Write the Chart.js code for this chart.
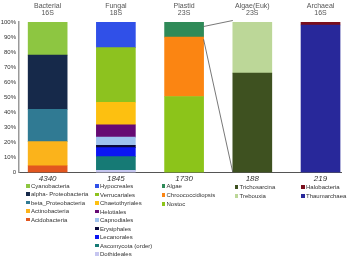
<!DOCTYPE html>
<html>
<head>
<meta charset="utf-8">
<script src="https://cdn.jsdelivr.net/npm/chart.js@4.4.0/dist/chart.umd.min.js"></script>
<style>
  html, body { margin: 0; padding: 0; background: #fff; }
  #wrap { position: relative; width: 349px; height: 259px; }
  #chart { position: absolute; left: 0; top: 0; }
  .leg { position: absolute; font-family: "Liberation Sans", Arial, sans-serif; font-size: 6px; color: #333; white-space: nowrap; }
  .leg div { position: relative; height: 8.5px; line-height: 8px; padding-left: 5px; }
  .leg span { position: absolute; left: 0; top: 2px; width: 3.5px; height: 3.5px; }
</style>
</head>
<body>
<div id="wrap">
  <canvas id="chart" width="349" height="259"></canvas>
</div>
<script>
// grupos (colunas)
const groups = ['Bacterial', 'Fungal', 'Plastid', 'Algae(Euk)', 'Archaeal'];
const genes = ['16S', '18S', '23S', '23S', '16S'];
const counts = ['4340', '1845', '1730', '188', '219'];

// taxa de cada coluna, de baixo para cima (% da coluna)
const bactTaxa = ['Acidobacteria', 'Actinobacteria', 'beta_Proteobacteria', 'alpha- Proteobacteria', 'Cyanobacteria'];
const bactValues = [4.5, 16, 21.5, 36, 22];
const bactColors = ['#e2561f', '#fbb31b', '#307a93', '#16294a', '#8dc641'];

const fungTaxa = ['Dothideales', 'Ascomycota (order)', 'Lecanorales', 'Erysiphales', 'Capnodiales', 'Helotiales', 'Chaetothyriales', 'Verrucariales', 'Hypocreales'];
const fungValues = [1.5, 9, 6, 1.5, 5.5, 8.2, 15, 36.3, 17];
const fungColors = ['#c6c6f0', '#167a75', '#0b16f2', '#0a0a3c', '#9ec2ee', '#660a73', '#fdc010', '#8dc21f', '#3050e8'];

const plastTaxa = ['Nostoc', 'Chroococcidiopsis', 'Algae'];
const plastValues = [50.5, 39.5, 10];
const plastColors = ['#8cc41a', '#fb8512', '#2f8a58'];

const algaeTaxa = ['Trichosarcina', 'Trebouxia'];
const algaeValues = [66, 34];
const algaeColors = ['#3e5120', '#bcd798'];

const archTaxa = ['Thaumarchaea', 'Halobacteria'];
const archValues = [98, 2];
const archColors = ['#28289a', '#7a0e1c'];

const yTicks = [0, 10, 20, 30, 40, 50, 60, 70, 80, 90, 100];

// ordem da legenda: true = topo primeiro
const stacks = [
    { taxa: bactTaxa, values: bactValues, colors: bactColors, topFirst: true },
    { taxa: fungTaxa, values: fungValues, colors: fungColors, topFirst: true },
    { taxa: plastTaxa, values: plastValues, colors: plastColors, topFirst: true },
    { taxa: algaeTaxa, values: algaeValues, colors: algaeColors, topFirst: false },
    { taxa: archTaxa, values: archValues, colors: archColors, topFirst: true }
];

// posição das legendas (layout)
const legendPos = [
    { left: 26, top: 182, gap: 8.4 },
    { left: 95, top: 182, gap: 8.5 },
    { left: 161.5, top: 182, gap: 9 },
    { left: 234.5, top: 183, gap: 9 },
    { left: 301, top: 183, gap: 9 }
];

const datasets = [];
stacks.forEach((g, gi) => {
    g.taxa.forEach((name, i) => {
        datasets.push({
            label: name,
            data: [{ x: gi, y: g.values[i] }],
            backgroundColor: g.colors[i],
            borderWidth: 0,
            barThickness: 39
        });
    });
});

const FONT = '"Liberation Sans", Arial, sans-serif';

// títulos, contagens e linhas de ligação Plastid -> Algae
const extras = {
    id: 'extras',
    afterDatasetsDraw(chart) {
        const ctx = chart.ctx;
        const xs = chart.scales.x;
        const ys = chart.scales.y;
        ctx.save();
        ctx.textAlign = 'center';
        ctx.textBaseline = 'middle';
        groups.forEach((g, i) => {
            const cx = xs.getPixelForValue(i);
            ctx.fillStyle = '#555';
            ctx.font = '7px ' + FONT;
            ctx.fillText(g, cx, 6);
            ctx.fillText(genes[i], cx, 13.5);
            ctx.fillStyle = '#333';
            ctx.font = 'italic 8px ' + FONT;
            ctx.fillText(counts[i], cx, 178.5);
        });
        const x1 = xs.getPixelForValue(2) + 19.5;
        const x2 = xs.getPixelForValue(3) - 19.5;
        ctx.strokeStyle = '#555';
        ctx.lineWidth = 0.8;
        ctx.beginPath();
        ctx.moveTo(x1, ys.getPixelForValue(97));
        ctx.lineTo(x2, ys.getPixelForValue(101));
        ctx.moveTo(x1, ys.getPixelForValue(88.5));
        ctx.lineTo(x2, ys.getPixelForValue(0));
        ctx.stroke();
        ctx.restore();
    }
};

new Chart(document.getElementById('chart'), {
    type: 'bar',
    data: { datasets: datasets },
    options: {
        responsive: false,
        animation: false,
        layout: { padding: { top: 22, bottom: 86.5, right: 8, left: 0 } },
        plugins: { legend: { display: false }, tooltip: { enabled: false } },
        scales: {
            x: {
                type: 'linear',
                stacked: true,
                offset: false,
                min: -0.42,
                max: 4.3,
                grid: { display: false, drawTicks: false, offset: false },
                ticks: { display: false },
                border: { color: '#555', width: 1 },
                afterFit: (s) => { s.height = 0; }
            },
            y: {
                stacked: true,
                min: 0,
                max: 100,
                grid: { display: false, drawTicks: false },
                border: { color: '#999', width: 1.5 },
                afterBuildTicks: (s) => { s.ticks = yTicks.map(v => ({ value: v })); },
                ticks: {
                    color: '#333',
                    padding: 3,
                    font: { size: 6, family: FONT },
                    callback: (v) => v === 0 ? '0' : v + '%'
                },
                afterFit: (s) => { s.width = 19; }
            }
        }
    },
    plugins: [extras]
});

// legendas em HTML
const wrap = document.getElementById('wrap');
stacks.forEach((g, gi) => {
    const box = document.createElement('div');
    box.className = 'leg';
    box.style.left = legendPos[gi].left + 'px';
    box.style.top = legendPos[gi].top + 'px';
    const idx = g.taxa.map((_, i) => i);
    if (g.topFirst) idx.reverse();
    idx.forEach(i => {
        const row = document.createElement('div');
        row.style.height = legendPos[gi].gap + 'px';
        const sq = document.createElement('span');
        sq.style.background = g.colors[i];
        row.appendChild(sq);
        row.appendChild(document.createTextNode(g.taxa[i]));
        box.appendChild(row);
    });
    wrap.appendChild(box);
});
</script>
</body>
</html>
